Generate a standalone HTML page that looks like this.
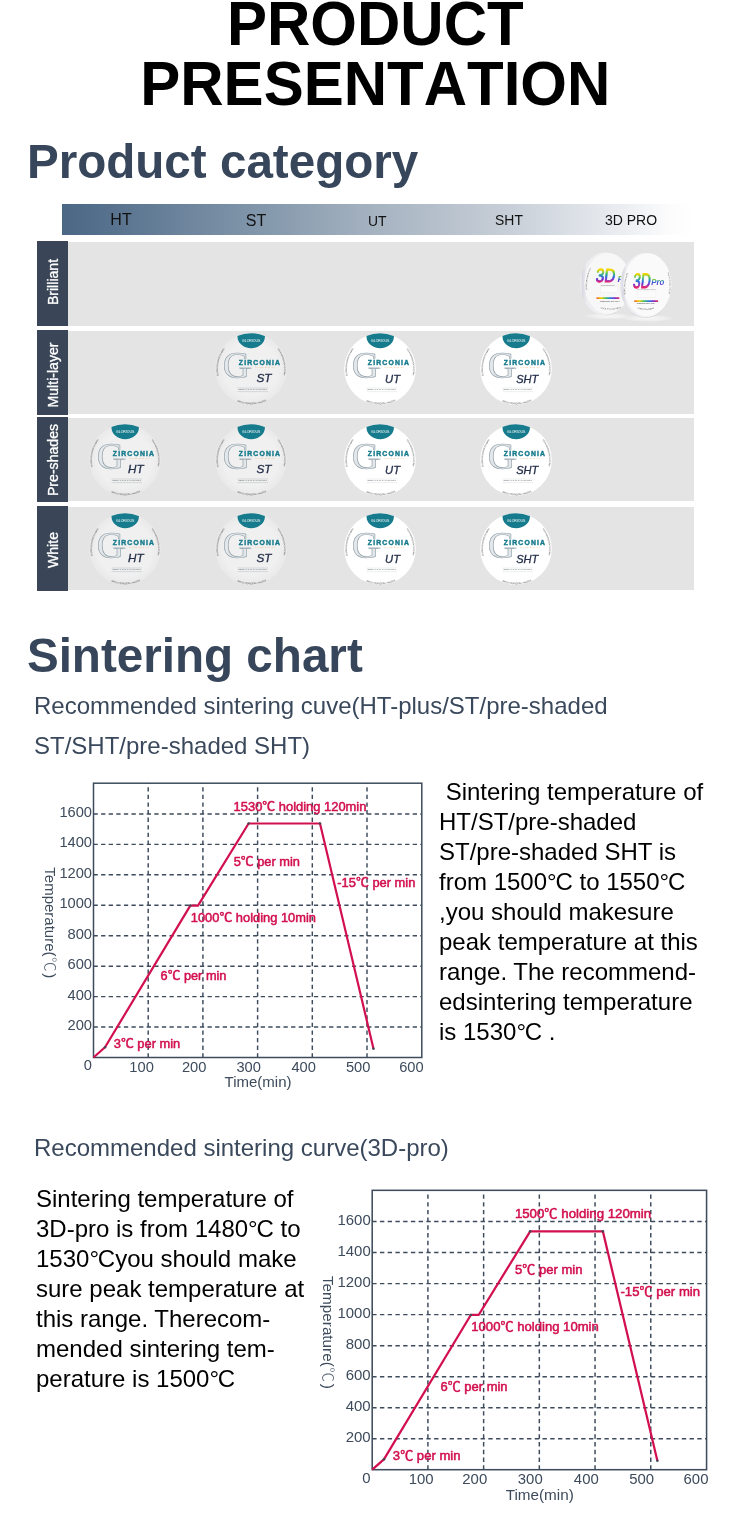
<!DOCTYPE html>
<html lang="en">
<head>
<meta charset="utf-8">
<title>Product Presentation</title>
<style>
html,body{margin:0;padding:0;background:#fff;}
body{width:750px;height:1529px;position:relative;overflow:hidden;font-family:"Liberation Sans",sans-serif;color:#000;}
h1{position:absolute;left:0.3px;top:-5.4px;width:750px;margin:0;text-align:center;font-size:60px;line-height:60px;font-weight:bold;color:#000;font-kerning:none;}
h1 span{display:block;transform:scaleY(1.04);transform-origin:50% 50.8px;}
h2{position:absolute;left:26.9px;margin:0;font-size:47.6px;line-height:56px;font-weight:bold;color:#37465a;white-space:nowrap;}
.sub{position:absolute;left:34px;margin:0;font-size:24px;line-height:40px;color:#3a485c;white-space:nowrap;}
.dg{letter-spacing:-1.2px;}
.body{position:absolute;margin:0;font-size:24px;line-height:30px;color:#000;white-space:pre;}
.hdr{position:absolute;left:62px;top:204px;width:631px;height:31px;background:linear-gradient(90deg,#4a6784 0%,#5a7490 9%,#8196aa 30.7%,#a6b3c1 49.8%,#c8cfd8 71%,#e9ecf0 88%,#fbfbfc 96%,#ffffff 100%);}
.hdr span{position:absolute;top:0;line-height:31px;color:#111;transform:translateX(-50%);white-space:nowrap;}
.row{position:absolute;left:67.5px;width:626.5px;background:#e4e4e4;}
.lab{position:absolute;left:37px;width:30.6px;background:#3a4657;}
.lab span{position:absolute;left:50%;top:50%;margin-left:1.1px;transform:translate(-50%,-50%) rotate(-90deg);color:#fff;font-size:14.1px;-webkit-text-stroke:0.3px #fff;white-space:nowrap;line-height:18px;}
svg{position:absolute;overflow:visible;font-family:"Liberation Sans",sans-serif;}
</style>
</head>
<body>
<h1><span>PRODUCT</span><span>PRESENTATION</span></h1>
<h2 style="top:134.2px">Product category</h2>

<div class="hdr">
  <span style="left:59px;font-size:16px">HT</span>
  <span style="left:194px;top:0.7px;font-size:16px">ST</span>
  <span style="left:315.2px;top:1.5px;font-size:13.9px">UT</span>
  <span style="left:447px;top:1px;font-size:13.9px">SHT</span>
  <span style="left:569px;top:1px;font-size:14px">3D PRO</span>
</div>

<div class="lab" style="top:241.3px;height:84.7px"><span style="margin-top:-2px">Brilliant</span></div>
<div class="row" style="top:241.8px;height:83.8px"></div>
<div class="lab" style="top:330.1px;height:84.7px"><span style="margin-top:2.2px">Multi-layer</span></div>
<div class="row" style="top:330.6px;height:83.8px"></div>
<div class="lab" style="top:417.3px;height:84.3px"><span style="margin-top:0.4px">Pre-shades</span></div>
<div class="row" style="top:417.8px;height:83.4px"></div>
<div class="lab" style="top:506.1px;height:84.5px"><span style="margin-top:1.2px">White</span></div>
<div class="row" style="top:506.6px;height:83.6px"></div>

<svg class="pro" style="left:570px;top:240px" width="120" height="90" viewBox="570 240 120 90">
<defs><linearGradient id="rb" x1="0" y1="0" x2="0" y2="1"><stop offset="0.22" stop-color="#f6d700"/><stop offset="0.40" stop-color="#3fc06a"/><stop offset="0.54" stop-color="#2a72dc"/><stop offset="0.68" stop-color="#7a2fd0"/><stop offset="0.80" stop-color="#e3246e"/></linearGradient><linearGradient id="rp" x1="0" y1="0" x2="0" y2="1"><stop offset="0.3" stop-color="#7ac943"/><stop offset="0.5" stop-color="#2a72dc"/><stop offset="0.78" stop-color="#6a30d0"/></linearGradient><linearGradient id="rbh" x1="0" y1="0" x2="1" y2="0"><stop offset="0" stop-color="#f0602c"/><stop offset="0.2" stop-color="#f2d000"/><stop offset="0.4" stop-color="#49c05a"/><stop offset="0.6" stop-color="#2a7bdc"/><stop offset="0.8" stop-color="#7a2fd0"/><stop offset="1" stop-color="#e8305a"/></linearGradient><linearGradient id="rim" x1="0" y1="0" x2="1" y2="0"><stop offset="0" stop-color="#f1f1f4"/><stop offset="0.05" stop-color="#d9d9e2"/><stop offset="0.13" stop-color="#ededf1"/><stop offset="1" stop-color="#f7f7f9"/></linearGradient><radialGradient id="sh"><stop offset="0" stop-color="#ffffff" stop-opacity="0.7"/><stop offset="0.6" stop-color="#ffffff" stop-opacity="0.4"/><stop offset="1" stop-color="#ffffff" stop-opacity="0"/></radialGradient><path id="pl1" d="M 587.2 290 Q 586.2 277 591.6 268"/><path id="pb1" d="M 600.6 308.2 Q 611 311.4 622.6 307.6"/><path id="pl2" d="M 625.4 294.6 Q 624.2 283 628.4 272.4"/><path id="pr2" d="M 667.4 272.6 Q 670.6 283 668.4 294.6"/><path id="pb2" d="M 637.6 308.6 Q 646 311.4 654.8 308.4"/></defs>
<ellipse cx="608" cy="316.2" rx="25" ry="3.4" fill="url(#sh)"/>
<ellipse cx="648" cy="318.4" rx="27" ry="3.6" fill="url(#sh)"/>
<ellipse cx="606" cy="284.4" rx="24.4" ry="31" fill="#c9c9cf" opacity="0.55"/>
<ellipse cx="604.6" cy="283.8" rx="24.4" ry="31.2" fill="url(#rim)"/>
<ellipse cx="607.8" cy="283.4" rx="23.4" ry="30.4" fill="#f7f7f8"/>
<text x="595.2" y="282.2" font-size="19" fill="url(#rb)" stroke="url(#rb)" stroke-width="0.9" stroke-linejoin="round" textLength="19.6" lengthAdjust="spacingAndGlyphs" transform="skewX(-6) translate(29.6 0)">3D</text>
<text x="617.4" y="281.6" font-size="9" font-weight="bold" font-style="italic" fill="url(#rp)">P</text>
<text x="600.8" y="285.6" font-size="1.9" fill="#9a9a9a" textLength="14" lengthAdjust="spacing">3D GRADIENT COLOR</text>
<rect x="600.8" y="286.2" width="17" height="6.6" fill="#fbfbfb" stroke="#e9e9e9" stroke-width="0.35"/>
<rect x="596.4" y="297.2" width="23" height="1.8" rx="0.6" fill="url(#rbh)"/>
<text x="600" y="301.7" font-size="2.4" fill="#444" textLength="20" lengthAdjust="spacing">PREMIUM QUALITY</text>
<text font-size="1.9" fill="#555"><textPath href="#pl1" textLength="22" lengthAdjust="spacing">DENTAL ZIRCONIA BLOCK</textPath></text>
<text font-size="1.9" fill="#555"><textPath href="#pb1" textLength="21" lengthAdjust="spacing">OPEN SYSTEM 98MM</textPath></text>
<ellipse cx="645.6" cy="285.8" rx="25.4" ry="32.2" fill="#bfbfc6" opacity="0.6"/>
<ellipse cx="645.2" cy="285.2" rx="24.9" ry="32.2" fill="url(#rim)"/>
<ellipse cx="647.4" cy="284.8" rx="24" ry="31.6" fill="#fafafb"/>
<text x="632.6" y="287.7" font-size="21" fill="url(#rb)" stroke="url(#rb)" stroke-width="0.9" stroke-linejoin="round" textLength="17.4" lengthAdjust="spacingAndGlyphs" transform="skewX(-6) translate(30.2 0)">3D</text>
<text x="651.2" y="285.2" font-size="9.6" font-weight="bold" font-style="italic" fill="url(#rp)" textLength="13" lengthAdjust="spacingAndGlyphs">Pro</text>
<text x="637.4" y="290.4" font-size="1.9" fill="#9a9a9a" textLength="18.4" lengthAdjust="spacing">3D GRADIENT COLOR</text>
<rect x="637.4" y="291" width="18.6" height="6.2" fill="#fbfbfb" stroke="#e9e9e9" stroke-width="0.35"/>
<rect x="634.2" y="300.3" width="24" height="1.8" rx="0.6" fill="url(#rbh)"/>
<text x="636.8" y="304" font-size="2.3" fill="#444" textLength="18.4" lengthAdjust="spacing">PREMIUM QUALITY</text>
<text font-size="1.9" fill="#555"><textPath href="#pl2" textLength="22" lengthAdjust="spacing">DENTAL ZIRCONIA BLOCK</textPath></text>
<text font-size="1.9" fill="#555"><textPath href="#pr2" textLength="22" lengthAdjust="spacing">HIGH TRANSLUCENT</textPath></text>
<text font-size="1.9" fill="#555"><textPath href="#pb2" textLength="17" lengthAdjust="spacing">OPEN SYSTEM 98MM</textPath></text>
</svg>
<svg class="disc" style="left:211.4px;top:329.1px" width="80" height="80" viewBox="-40 -40 80 80">
<defs><clipPath id="c1"><circle r="35.8"/></clipPath><path id="al1" d="M -32.38 6.88 A 33.1 33.1 0 0 1 -25.72 -20.83"/><path id="ar1" d="M 26.43 -19.92 A 33.1 33.1 0 0 1 32.38 6.88"/><path id="ab1" d="M -14.32 32.16 A 35.2 35.2 0 0 0 15.98 31.36"/></defs>
<defs><radialGradient id="g1"><stop offset="0.75" stop-color="#f0f0f0"/><stop offset="1" stop-color="#e9e9e9"/></radialGradient></defs>
<circle r="35.8" fill="url(#g1)"/>
<g clip-path="url(#c1)"><ellipse cx="0.2" cy="-32.6" rx="13.7" ry="11.9" fill="#167b8c"/></g>
<text x="0.2" y="-26.7" text-anchor="middle" font-size="4.4" fill="#fff" textLength="18.4" lengthAdjust="spacingAndGlyphs">GLORIOUS</text>
<text x="-28.2" y="9.3" font-family="'Liberation Serif', serif" font-size="38" fill="#e4e8ea" stroke="#93a2ab" stroke-width="0.65">G</text>
<rect x="-13.4" y="-9.8" width="43.4" height="8.4" fill="#f0f0f0"/>
<path d="M -11.4 -0.8 H 0.4" stroke="#93a2ab" stroke-width="0.9" fill="none"/>
<text x="-12.2" y="-3.7" font-size="6.8" font-weight="bold" fill="#167b8c" stroke="#167b8c" stroke-width="0.42" textLength="41.2" lengthAdjust="spacing">ZIRCONIA</text>
<text x="4.4" y="-0.6" font-size="2.2" fill="#eab27c" textLength="19.4" lengthAdjust="spacing">HT ST SHT UT</text>
<text x="5.4" y="13.3" font-size="11.2" font-style="italic" fill="#26304b" stroke="#26304b" stroke-width="0.32" textLength="15.0" lengthAdjust="spacingAndGlyphs">ST</text>
<path d="M -13.6 19.0 H 17 M -13.6 22.6 H 17" stroke="#b4b8bb" stroke-width="0.45" fill="none"/>
<text x="-12.6" y="21.1" font-size="2.3" fill="#6d7378" textLength="28.6" lengthAdjust="spacing">DENTAL CAD CAM MILLING</text>
<text font-size="2.1" fill="#4a4a4a"><textPath href="#al1" textLength="28.6" lengthAdjust="spacing">GLORIOUS ZIRCONIA DISC 98MM</textPath></text>
<text font-size="2.1" fill="#4a4a4a"><textPath href="#ar1" textLength="27.6" lengthAdjust="spacing">HIGH TRANSLUCENT ZIRCONIA</textPath></text>
<text font-size="2.1" fill="#4a4a4a"><textPath href="#ab1" textLength="30.6" lengthAdjust="spacing">OPEN SYSTEM DENTAL LAB BLOCK</textPath></text>
</svg>
<svg class="disc" style="left:340px;top:329.1px" width="80" height="80" viewBox="-40 -40 80 80">
<defs><clipPath id="c2"><circle r="35.8"/></clipPath><path id="al2" d="M -32.38 6.88 A 33.1 33.1 0 0 1 -25.72 -20.83"/><path id="ar2" d="M 26.43 -19.92 A 33.1 33.1 0 0 1 32.38 6.88"/><path id="ab2" d="M -14.32 32.16 A 35.2 35.2 0 0 0 15.98 31.36"/></defs>
<circle r="35.8" fill="#ffffff"/>
<g clip-path="url(#c2)"><ellipse cx="0.2" cy="-32.6" rx="13.7" ry="11.9" fill="#167b8c"/></g>
<text x="0.2" y="-26.7" text-anchor="middle" font-size="4.4" fill="#fff" textLength="18.4" lengthAdjust="spacingAndGlyphs">GLORIOUS</text>
<text x="-28.2" y="9.3" font-family="'Liberation Serif', serif" font-size="38" fill="#e4e8ea" stroke="#93a2ab" stroke-width="0.65">G</text>
<rect x="-13.4" y="-9.8" width="43.4" height="8.4" fill="#ffffff"/>
<path d="M -11.4 -0.8 H 0.4" stroke="#93a2ab" stroke-width="0.9" fill="none"/>
<text x="-12.2" y="-3.7" font-size="6.8" font-weight="bold" fill="#167b8c" stroke="#167b8c" stroke-width="0.42" textLength="41.2" lengthAdjust="spacing">ZIRCONIA</text>
<text x="4.4" y="-0.6" font-size="2.2" fill="#eab27c" textLength="19.4" lengthAdjust="spacing">HT ST SHT UT</text>
<text x="5.1" y="14.0" font-size="11.2" font-style="italic" fill="#26304b" stroke="#26304b" stroke-width="0.32" textLength="14.9" lengthAdjust="spacingAndGlyphs">UT</text>
<path d="M -13.6 19.0 H 17 M -13.6 22.6 H 17" stroke="#dadcde" stroke-width="0.45" fill="none"/>
<text x="-12.6" y="21.0" font-size="2.3" fill="#6d7378" textLength="28.6" lengthAdjust="spacing">DENTAL CAD CAM MILLING</text>
<text font-size="2.1" fill="#4a4a4a"><textPath href="#al2" textLength="28.6" lengthAdjust="spacing">GLORIOUS ZIRCONIA DISC 98MM</textPath></text>
<text font-size="2.1" fill="#4a4a4a"><textPath href="#ar2" textLength="27.6" lengthAdjust="spacing">HIGH TRANSLUCENT ZIRCONIA</textPath></text>
<text font-size="2.1" fill="#4a4a4a"><textPath href="#ab2" textLength="30.6" lengthAdjust="spacing">OPEN SYSTEM DENTAL LAB BLOCK</textPath></text>
</svg>
<svg class="disc" style="left:475.79999999999995px;top:329.1px" width="80" height="80" viewBox="-40 -40 80 80">
<defs><clipPath id="c3"><circle r="35.8"/></clipPath><path id="al3" d="M -32.38 6.88 A 33.1 33.1 0 0 1 -25.72 -20.83"/><path id="ar3" d="M 26.43 -19.92 A 33.1 33.1 0 0 1 32.38 6.88"/><path id="ab3" d="M -14.32 32.16 A 35.2 35.2 0 0 0 15.98 31.36"/></defs>
<circle r="35.8" fill="#ffffff"/>
<g clip-path="url(#c3)"><ellipse cx="0.2" cy="-32.6" rx="13.7" ry="11.9" fill="#167b8c"/></g>
<text x="0.2" y="-26.7" text-anchor="middle" font-size="4.4" fill="#fff" textLength="18.4" lengthAdjust="spacingAndGlyphs">GLORIOUS</text>
<text x="-28.2" y="9.3" font-family="'Liberation Serif', serif" font-size="38" fill="#e4e8ea" stroke="#93a2ab" stroke-width="0.65">G</text>
<rect x="-13.4" y="-9.8" width="43.4" height="8.4" fill="#ffffff"/>
<path d="M -11.4 -0.8 H 0.4" stroke="#93a2ab" stroke-width="0.9" fill="none"/>
<text x="-12.2" y="-3.7" font-size="6.8" font-weight="bold" fill="#167b8c" stroke="#167b8c" stroke-width="0.42" textLength="41.2" lengthAdjust="spacing">ZIRCONIA</text>
<text x="4.4" y="-0.6" font-size="2.2" fill="#eab27c" textLength="19.4" lengthAdjust="spacing">HT ST SHT UT</text>
<text x="0.2" y="14.0" font-size="11.2" font-style="italic" fill="#26304b" stroke="#26304b" stroke-width="0.32" textLength="22.1" lengthAdjust="spacingAndGlyphs">SHT</text>
<path d="M -13.6 19.0 H 17 M -13.6 22.6 H 17" stroke="#dadcde" stroke-width="0.45" fill="none"/>
<text x="-12.6" y="21.0" font-size="2.3" fill="#6d7378" textLength="28.6" lengthAdjust="spacing">DENTAL CAD CAM MILLING</text>
<text font-size="2.1" fill="#4a4a4a"><textPath href="#al3" textLength="28.6" lengthAdjust="spacing">GLORIOUS ZIRCONIA DISC 98MM</textPath></text>
<text font-size="2.1" fill="#4a4a4a"><textPath href="#ar3" textLength="27.6" lengthAdjust="spacing">HIGH TRANSLUCENT ZIRCONIA</textPath></text>
<text font-size="2.1" fill="#4a4a4a"><textPath href="#ab3" textLength="30.6" lengthAdjust="spacing">OPEN SYSTEM DENTAL LAB BLOCK</textPath></text>
</svg>
<svg class="disc" style="left:85.2px;top:419.9px" width="80" height="80" viewBox="-40 -40 80 80">
<defs><clipPath id="c4"><circle r="35.8"/></clipPath><path id="al4" d="M -32.38 6.88 A 33.1 33.1 0 0 1 -25.72 -20.83"/><path id="ar4" d="M 26.43 -19.92 A 33.1 33.1 0 0 1 32.38 6.88"/><path id="ab4" d="M -14.32 32.16 A 35.2 35.2 0 0 0 15.98 31.36"/></defs>
<defs><radialGradient id="g4"><stop offset="0.75" stop-color="#f0f0f0"/><stop offset="1" stop-color="#e9e9e9"/></radialGradient></defs>
<circle r="35.8" fill="url(#g4)"/>
<g clip-path="url(#c4)"><ellipse cx="0.2" cy="-32.6" rx="13.7" ry="11.9" fill="#167b8c"/></g>
<text x="0.2" y="-26.7" text-anchor="middle" font-size="4.4" fill="#fff" textLength="18.4" lengthAdjust="spacingAndGlyphs">GLORIOUS</text>
<text x="-28.2" y="9.3" font-family="'Liberation Serif', serif" font-size="38" fill="#e4e8ea" stroke="#93a2ab" stroke-width="0.65">G</text>
<rect x="-13.4" y="-9.8" width="43.4" height="8.4" fill="#f0f0f0"/>
<path d="M -11.4 -0.8 H 0.4" stroke="#93a2ab" stroke-width="0.9" fill="none"/>
<text x="-12.2" y="-3.7" font-size="6.8" font-weight="bold" fill="#167b8c" stroke="#167b8c" stroke-width="0.42" textLength="41.2" lengthAdjust="spacing">ZIRCONIA</text>
<text x="4.4" y="-0.6" font-size="2.2" fill="#eab27c" textLength="19.4" lengthAdjust="spacing">HT ST SHT UT</text>
<text x="3.0" y="13.3" font-size="11.2" font-style="italic" fill="#26304b" stroke="#26304b" stroke-width="0.32" textLength="15.5" lengthAdjust="spacingAndGlyphs">HT</text>
<path d="M -13.6 19.0 H 17 M -13.6 22.6 H 17" stroke="#b4b8bb" stroke-width="0.45" fill="none"/>
<text x="-12.6" y="21.1" font-size="2.3" fill="#6d7378" textLength="28.6" lengthAdjust="spacing">DENTAL CAD CAM MILLING</text>
<text font-size="2.1" fill="#4a4a4a"><textPath href="#al4" textLength="28.6" lengthAdjust="spacing">GLORIOUS ZIRCONIA DISC 98MM</textPath></text>
<text font-size="2.1" fill="#4a4a4a"><textPath href="#ar4" textLength="27.6" lengthAdjust="spacing">HIGH TRANSLUCENT ZIRCONIA</textPath></text>
<text font-size="2.1" fill="#4a4a4a"><textPath href="#ab4" textLength="30.6" lengthAdjust="spacing">OPEN SYSTEM DENTAL LAB BLOCK</textPath></text>
</svg>
<svg class="disc" style="left:211.4px;top:419.9px" width="80" height="80" viewBox="-40 -40 80 80">
<defs><clipPath id="c5"><circle r="35.8"/></clipPath><path id="al5" d="M -32.38 6.88 A 33.1 33.1 0 0 1 -25.72 -20.83"/><path id="ar5" d="M 26.43 -19.92 A 33.1 33.1 0 0 1 32.38 6.88"/><path id="ab5" d="M -14.32 32.16 A 35.2 35.2 0 0 0 15.98 31.36"/></defs>
<defs><radialGradient id="g5"><stop offset="0.75" stop-color="#f0f0f0"/><stop offset="1" stop-color="#e9e9e9"/></radialGradient></defs>
<circle r="35.8" fill="url(#g5)"/>
<g clip-path="url(#c5)"><ellipse cx="0.2" cy="-32.6" rx="13.7" ry="11.9" fill="#167b8c"/></g>
<text x="0.2" y="-26.7" text-anchor="middle" font-size="4.4" fill="#fff" textLength="18.4" lengthAdjust="spacingAndGlyphs">GLORIOUS</text>
<text x="-28.2" y="9.3" font-family="'Liberation Serif', serif" font-size="38" fill="#e4e8ea" stroke="#93a2ab" stroke-width="0.65">G</text>
<rect x="-13.4" y="-9.8" width="43.4" height="8.4" fill="#f0f0f0"/>
<path d="M -11.4 -0.8 H 0.4" stroke="#93a2ab" stroke-width="0.9" fill="none"/>
<text x="-12.2" y="-3.7" font-size="6.8" font-weight="bold" fill="#167b8c" stroke="#167b8c" stroke-width="0.42" textLength="41.2" lengthAdjust="spacing">ZIRCONIA</text>
<text x="4.4" y="-0.6" font-size="2.2" fill="#eab27c" textLength="19.4" lengthAdjust="spacing">HT ST SHT UT</text>
<text x="5.4" y="13.3" font-size="11.2" font-style="italic" fill="#26304b" stroke="#26304b" stroke-width="0.32" textLength="15.0" lengthAdjust="spacingAndGlyphs">ST</text>
<path d="M -13.6 19.0 H 17 M -13.6 22.6 H 17" stroke="#b4b8bb" stroke-width="0.45" fill="none"/>
<text x="-12.6" y="21.1" font-size="2.3" fill="#6d7378" textLength="28.6" lengthAdjust="spacing">DENTAL CAD CAM MILLING</text>
<text font-size="2.1" fill="#4a4a4a"><textPath href="#al5" textLength="28.6" lengthAdjust="spacing">GLORIOUS ZIRCONIA DISC 98MM</textPath></text>
<text font-size="2.1" fill="#4a4a4a"><textPath href="#ar5" textLength="27.6" lengthAdjust="spacing">HIGH TRANSLUCENT ZIRCONIA</textPath></text>
<text font-size="2.1" fill="#4a4a4a"><textPath href="#ab5" textLength="30.6" lengthAdjust="spacing">OPEN SYSTEM DENTAL LAB BLOCK</textPath></text>
</svg>
<svg class="disc" style="left:340px;top:419.9px" width="80" height="80" viewBox="-40 -40 80 80">
<defs><clipPath id="c6"><circle r="35.8"/></clipPath><path id="al6" d="M -32.38 6.88 A 33.1 33.1 0 0 1 -25.72 -20.83"/><path id="ar6" d="M 26.43 -19.92 A 33.1 33.1 0 0 1 32.38 6.88"/><path id="ab6" d="M -14.32 32.16 A 35.2 35.2 0 0 0 15.98 31.36"/></defs>
<circle r="35.8" fill="#ffffff"/>
<g clip-path="url(#c6)"><ellipse cx="0.2" cy="-32.6" rx="13.7" ry="11.9" fill="#167b8c"/></g>
<text x="0.2" y="-26.7" text-anchor="middle" font-size="4.4" fill="#fff" textLength="18.4" lengthAdjust="spacingAndGlyphs">GLORIOUS</text>
<text x="-28.2" y="9.3" font-family="'Liberation Serif', serif" font-size="38" fill="#e4e8ea" stroke="#93a2ab" stroke-width="0.65">G</text>
<rect x="-13.4" y="-9.8" width="43.4" height="8.4" fill="#ffffff"/>
<path d="M -11.4 -0.8 H 0.4" stroke="#93a2ab" stroke-width="0.9" fill="none"/>
<text x="-12.2" y="-3.7" font-size="6.8" font-weight="bold" fill="#167b8c" stroke="#167b8c" stroke-width="0.42" textLength="41.2" lengthAdjust="spacing">ZIRCONIA</text>
<text x="4.4" y="-0.6" font-size="2.2" fill="#eab27c" textLength="19.4" lengthAdjust="spacing">HT ST SHT UT</text>
<text x="5.1" y="14.0" font-size="11.2" font-style="italic" fill="#26304b" stroke="#26304b" stroke-width="0.32" textLength="14.9" lengthAdjust="spacingAndGlyphs">UT</text>
<path d="M -13.6 19.0 H 17 M -13.6 22.6 H 17" stroke="#dadcde" stroke-width="0.45" fill="none"/>
<text x="-12.6" y="21.0" font-size="2.3" fill="#6d7378" textLength="28.6" lengthAdjust="spacing">DENTAL CAD CAM MILLING</text>
<text font-size="2.1" fill="#4a4a4a"><textPath href="#al6" textLength="28.6" lengthAdjust="spacing">GLORIOUS ZIRCONIA DISC 98MM</textPath></text>
<text font-size="2.1" fill="#4a4a4a"><textPath href="#ar6" textLength="27.6" lengthAdjust="spacing">HIGH TRANSLUCENT ZIRCONIA</textPath></text>
<text font-size="2.1" fill="#4a4a4a"><textPath href="#ab6" textLength="30.6" lengthAdjust="spacing">OPEN SYSTEM DENTAL LAB BLOCK</textPath></text>
</svg>
<svg class="disc" style="left:475.79999999999995px;top:419.9px" width="80" height="80" viewBox="-40 -40 80 80">
<defs><clipPath id="c7"><circle r="35.8"/></clipPath><path id="al7" d="M -32.38 6.88 A 33.1 33.1 0 0 1 -25.72 -20.83"/><path id="ar7" d="M 26.43 -19.92 A 33.1 33.1 0 0 1 32.38 6.88"/><path id="ab7" d="M -14.32 32.16 A 35.2 35.2 0 0 0 15.98 31.36"/></defs>
<circle r="35.8" fill="#ffffff"/>
<g clip-path="url(#c7)"><ellipse cx="0.2" cy="-32.6" rx="13.7" ry="11.9" fill="#167b8c"/></g>
<text x="0.2" y="-26.7" text-anchor="middle" font-size="4.4" fill="#fff" textLength="18.4" lengthAdjust="spacingAndGlyphs">GLORIOUS</text>
<text x="-28.2" y="9.3" font-family="'Liberation Serif', serif" font-size="38" fill="#e4e8ea" stroke="#93a2ab" stroke-width="0.65">G</text>
<rect x="-13.4" y="-9.8" width="43.4" height="8.4" fill="#ffffff"/>
<path d="M -11.4 -0.8 H 0.4" stroke="#93a2ab" stroke-width="0.9" fill="none"/>
<text x="-12.2" y="-3.7" font-size="6.8" font-weight="bold" fill="#167b8c" stroke="#167b8c" stroke-width="0.42" textLength="41.2" lengthAdjust="spacing">ZIRCONIA</text>
<text x="4.4" y="-0.6" font-size="2.2" fill="#eab27c" textLength="19.4" lengthAdjust="spacing">HT ST SHT UT</text>
<text x="0.2" y="14.0" font-size="11.2" font-style="italic" fill="#26304b" stroke="#26304b" stroke-width="0.32" textLength="22.1" lengthAdjust="spacingAndGlyphs">SHT</text>
<path d="M -13.6 19.0 H 17 M -13.6 22.6 H 17" stroke="#dadcde" stroke-width="0.45" fill="none"/>
<text x="-12.6" y="21.0" font-size="2.3" fill="#6d7378" textLength="28.6" lengthAdjust="spacing">DENTAL CAD CAM MILLING</text>
<text font-size="2.1" fill="#4a4a4a"><textPath href="#al7" textLength="28.6" lengthAdjust="spacing">GLORIOUS ZIRCONIA DISC 98MM</textPath></text>
<text font-size="2.1" fill="#4a4a4a"><textPath href="#ar7" textLength="27.6" lengthAdjust="spacing">HIGH TRANSLUCENT ZIRCONIA</textPath></text>
<text font-size="2.1" fill="#4a4a4a"><textPath href="#ab7" textLength="30.6" lengthAdjust="spacing">OPEN SYSTEM DENTAL LAB BLOCK</textPath></text>
</svg>
<svg class="disc" style="left:85.2px;top:509.0px" width="80" height="80" viewBox="-40 -40 80 80">
<defs><clipPath id="c8"><circle r="35.8"/></clipPath><path id="al8" d="M -32.38 6.88 A 33.1 33.1 0 0 1 -25.72 -20.83"/><path id="ar8" d="M 26.43 -19.92 A 33.1 33.1 0 0 1 32.38 6.88"/><path id="ab8" d="M -14.32 32.16 A 35.2 35.2 0 0 0 15.98 31.36"/></defs>
<defs><radialGradient id="g8"><stop offset="0.75" stop-color="#f0f0f0"/><stop offset="1" stop-color="#e9e9e9"/></radialGradient></defs>
<circle r="35.8" fill="url(#g8)"/>
<g clip-path="url(#c8)"><ellipse cx="0.2" cy="-32.6" rx="13.7" ry="11.9" fill="#167b8c"/></g>
<text x="0.2" y="-26.7" text-anchor="middle" font-size="4.4" fill="#fff" textLength="18.4" lengthAdjust="spacingAndGlyphs">GLORIOUS</text>
<text x="-28.2" y="9.3" font-family="'Liberation Serif', serif" font-size="38" fill="#e4e8ea" stroke="#93a2ab" stroke-width="0.65">G</text>
<rect x="-13.4" y="-9.8" width="43.4" height="8.4" fill="#f0f0f0"/>
<path d="M -11.4 -0.8 H 0.4" stroke="#93a2ab" stroke-width="0.9" fill="none"/>
<text x="-12.2" y="-3.7" font-size="6.8" font-weight="bold" fill="#167b8c" stroke="#167b8c" stroke-width="0.42" textLength="41.2" lengthAdjust="spacing">ZIRCONIA</text>
<text x="4.4" y="-0.6" font-size="2.2" fill="#eab27c" textLength="19.4" lengthAdjust="spacing">HT ST SHT UT</text>
<text x="3.0" y="13.3" font-size="11.2" font-style="italic" fill="#26304b" stroke="#26304b" stroke-width="0.32" textLength="15.5" lengthAdjust="spacingAndGlyphs">HT</text>
<path d="M -13.6 19.0 H 17 M -13.6 22.6 H 17" stroke="#b4b8bb" stroke-width="0.45" fill="none"/>
<text x="-12.6" y="21.1" font-size="2.3" fill="#6d7378" textLength="28.6" lengthAdjust="spacing">DENTAL CAD CAM MILLING</text>
<text font-size="2.1" fill="#4a4a4a"><textPath href="#al8" textLength="28.6" lengthAdjust="spacing">GLORIOUS ZIRCONIA DISC 98MM</textPath></text>
<text font-size="2.1" fill="#4a4a4a"><textPath href="#ar8" textLength="27.6" lengthAdjust="spacing">HIGH TRANSLUCENT ZIRCONIA</textPath></text>
<text font-size="2.1" fill="#4a4a4a"><textPath href="#ab8" textLength="30.6" lengthAdjust="spacing">OPEN SYSTEM DENTAL LAB BLOCK</textPath></text>
</svg>
<svg class="disc" style="left:211.4px;top:509.0px" width="80" height="80" viewBox="-40 -40 80 80">
<defs><clipPath id="c9"><circle r="35.8"/></clipPath><path id="al9" d="M -32.38 6.88 A 33.1 33.1 0 0 1 -25.72 -20.83"/><path id="ar9" d="M 26.43 -19.92 A 33.1 33.1 0 0 1 32.38 6.88"/><path id="ab9" d="M -14.32 32.16 A 35.2 35.2 0 0 0 15.98 31.36"/></defs>
<defs><radialGradient id="g9"><stop offset="0.75" stop-color="#f0f0f0"/><stop offset="1" stop-color="#e9e9e9"/></radialGradient></defs>
<circle r="35.8" fill="url(#g9)"/>
<g clip-path="url(#c9)"><ellipse cx="0.2" cy="-32.6" rx="13.7" ry="11.9" fill="#167b8c"/></g>
<text x="0.2" y="-26.7" text-anchor="middle" font-size="4.4" fill="#fff" textLength="18.4" lengthAdjust="spacingAndGlyphs">GLORIOUS</text>
<text x="-28.2" y="9.3" font-family="'Liberation Serif', serif" font-size="38" fill="#e4e8ea" stroke="#93a2ab" stroke-width="0.65">G</text>
<rect x="-13.4" y="-9.8" width="43.4" height="8.4" fill="#f0f0f0"/>
<path d="M -11.4 -0.8 H 0.4" stroke="#93a2ab" stroke-width="0.9" fill="none"/>
<text x="-12.2" y="-3.7" font-size="6.8" font-weight="bold" fill="#167b8c" stroke="#167b8c" stroke-width="0.42" textLength="41.2" lengthAdjust="spacing">ZIRCONIA</text>
<text x="4.4" y="-0.6" font-size="2.2" fill="#eab27c" textLength="19.4" lengthAdjust="spacing">HT ST SHT UT</text>
<text x="5.4" y="13.3" font-size="11.2" font-style="italic" fill="#26304b" stroke="#26304b" stroke-width="0.32" textLength="15.0" lengthAdjust="spacingAndGlyphs">ST</text>
<path d="M -13.6 19.0 H 17 M -13.6 22.6 H 17" stroke="#b4b8bb" stroke-width="0.45" fill="none"/>
<text x="-12.6" y="21.1" font-size="2.3" fill="#6d7378" textLength="28.6" lengthAdjust="spacing">DENTAL CAD CAM MILLING</text>
<text font-size="2.1" fill="#4a4a4a"><textPath href="#al9" textLength="28.6" lengthAdjust="spacing">GLORIOUS ZIRCONIA DISC 98MM</textPath></text>
<text font-size="2.1" fill="#4a4a4a"><textPath href="#ar9" textLength="27.6" lengthAdjust="spacing">HIGH TRANSLUCENT ZIRCONIA</textPath></text>
<text font-size="2.1" fill="#4a4a4a"><textPath href="#ab9" textLength="30.6" lengthAdjust="spacing">OPEN SYSTEM DENTAL LAB BLOCK</textPath></text>
</svg>
<svg class="disc" style="left:340px;top:509.0px" width="80" height="80" viewBox="-40 -40 80 80">
<defs><clipPath id="c10"><circle r="35.8"/></clipPath><path id="al10" d="M -32.38 6.88 A 33.1 33.1 0 0 1 -25.72 -20.83"/><path id="ar10" d="M 26.43 -19.92 A 33.1 33.1 0 0 1 32.38 6.88"/><path id="ab10" d="M -14.32 32.16 A 35.2 35.2 0 0 0 15.98 31.36"/></defs>
<circle r="35.8" fill="#ffffff"/>
<g clip-path="url(#c10)"><ellipse cx="0.2" cy="-32.6" rx="13.7" ry="11.9" fill="#167b8c"/></g>
<text x="0.2" y="-26.7" text-anchor="middle" font-size="4.4" fill="#fff" textLength="18.4" lengthAdjust="spacingAndGlyphs">GLORIOUS</text>
<text x="-28.2" y="9.3" font-family="'Liberation Serif', serif" font-size="38" fill="#e4e8ea" stroke="#93a2ab" stroke-width="0.65">G</text>
<rect x="-13.4" y="-9.8" width="43.4" height="8.4" fill="#ffffff"/>
<path d="M -11.4 -0.8 H 0.4" stroke="#93a2ab" stroke-width="0.9" fill="none"/>
<text x="-12.2" y="-3.7" font-size="6.8" font-weight="bold" fill="#167b8c" stroke="#167b8c" stroke-width="0.42" textLength="41.2" lengthAdjust="spacing">ZIRCONIA</text>
<text x="4.4" y="-0.6" font-size="2.2" fill="#eab27c" textLength="19.4" lengthAdjust="spacing">HT ST SHT UT</text>
<text x="5.1" y="14.0" font-size="11.2" font-style="italic" fill="#26304b" stroke="#26304b" stroke-width="0.32" textLength="14.9" lengthAdjust="spacingAndGlyphs">UT</text>
<path d="M -13.6 19.0 H 17 M -13.6 22.6 H 17" stroke="#dadcde" stroke-width="0.45" fill="none"/>
<text x="-12.6" y="21.0" font-size="2.3" fill="#6d7378" textLength="28.6" lengthAdjust="spacing">DENTAL CAD CAM MILLING</text>
<text font-size="2.1" fill="#4a4a4a"><textPath href="#al10" textLength="28.6" lengthAdjust="spacing">GLORIOUS ZIRCONIA DISC 98MM</textPath></text>
<text font-size="2.1" fill="#4a4a4a"><textPath href="#ar10" textLength="27.6" lengthAdjust="spacing">HIGH TRANSLUCENT ZIRCONIA</textPath></text>
<text font-size="2.1" fill="#4a4a4a"><textPath href="#ab10" textLength="30.6" lengthAdjust="spacing">OPEN SYSTEM DENTAL LAB BLOCK</textPath></text>
</svg>
<svg class="disc" style="left:475.79999999999995px;top:509.0px" width="80" height="80" viewBox="-40 -40 80 80">
<defs><clipPath id="c11"><circle r="35.8"/></clipPath><path id="al11" d="M -32.38 6.88 A 33.1 33.1 0 0 1 -25.72 -20.83"/><path id="ar11" d="M 26.43 -19.92 A 33.1 33.1 0 0 1 32.38 6.88"/><path id="ab11" d="M -14.32 32.16 A 35.2 35.2 0 0 0 15.98 31.36"/></defs>
<circle r="35.8" fill="#ffffff"/>
<g clip-path="url(#c11)"><ellipse cx="0.2" cy="-32.6" rx="13.7" ry="11.9" fill="#167b8c"/></g>
<text x="0.2" y="-26.7" text-anchor="middle" font-size="4.4" fill="#fff" textLength="18.4" lengthAdjust="spacingAndGlyphs">GLORIOUS</text>
<text x="-28.2" y="9.3" font-family="'Liberation Serif', serif" font-size="38" fill="#e4e8ea" stroke="#93a2ab" stroke-width="0.65">G</text>
<rect x="-13.4" y="-9.8" width="43.4" height="8.4" fill="#ffffff"/>
<path d="M -11.4 -0.8 H 0.4" stroke="#93a2ab" stroke-width="0.9" fill="none"/>
<text x="-12.2" y="-3.7" font-size="6.8" font-weight="bold" fill="#167b8c" stroke="#167b8c" stroke-width="0.42" textLength="41.2" lengthAdjust="spacing">ZIRCONIA</text>
<text x="4.4" y="-0.6" font-size="2.2" fill="#eab27c" textLength="19.4" lengthAdjust="spacing">HT ST SHT UT</text>
<text x="0.2" y="14.0" font-size="11.2" font-style="italic" fill="#26304b" stroke="#26304b" stroke-width="0.32" textLength="22.1" lengthAdjust="spacingAndGlyphs">SHT</text>
<path d="M -13.6 19.0 H 17 M -13.6 22.6 H 17" stroke="#dadcde" stroke-width="0.45" fill="none"/>
<text x="-12.6" y="21.0" font-size="2.3" fill="#6d7378" textLength="28.6" lengthAdjust="spacing">DENTAL CAD CAM MILLING</text>
<text font-size="2.1" fill="#4a4a4a"><textPath href="#al11" textLength="28.6" lengthAdjust="spacing">GLORIOUS ZIRCONIA DISC 98MM</textPath></text>
<text font-size="2.1" fill="#4a4a4a"><textPath href="#ar11" textLength="27.6" lengthAdjust="spacing">HIGH TRANSLUCENT ZIRCONIA</textPath></text>
<text font-size="2.1" fill="#4a4a4a"><textPath href="#ab11" textLength="30.6" lengthAdjust="spacing">OPEN SYSTEM DENTAL LAB BLOCK</textPath></text>
</svg>

<h2 style="top:628px">Sintering chart</h2>
<p class="sub" style="top:686px">Recommended sintering cuve(HT-plus/ST/pre-shaded<br>ST/SHT/pre-shaded SHT)</p>

<p class="body" style="left:439px;top:777px"> Sintering temperature of
HT/ST/pre-shaded
ST/pre-shaded SHT is
from 1500<span class="dg">°</span>C to 1550<span class="dg">°</span>C
,you should makesure
peak temperature at this
range. The recommend-
edsintering temperature
is 1530<span class="dg">°</span>C .</p>

<p class="sub" style="top:1128px">Recommended sintering curve(3D-pro)</p>

<p class="body" style="left:36px;top:1184px">Sintering temperature of
3D-pro is from 1480<span class="dg">°</span>C to
1530<span class="dg">°</span>Cyou should make
sure peak temperature at
this range. Therecom-
mended sintering tem-
perature is 1500<span class="dg">°</span>C</p>

<svg class="chart" style="left:0;top:0" width="750" height="1529" viewBox="0 0 750 1529">
<g transform="translate(93.5 1057.5) scale(1.0)" font-family='"Liberation Sans", "Noto Sans CJK SC", sans-serif'>
<path d="M 0 -30.45 H 328.3 M 0 -60.90 H 328.3 M 0 -91.35 H 328.3 M 0 -121.80 H 328.3 M 0 -152.25 H 328.3 M 0 -182.70 H 328.3 M 0 -213.15 H 328.3 M 0 -243.60 H 328.3 M 54.70 0 V -274.3 M 109.40 0 V -274.3 M 164.10 0 V -274.3 M 218.80 0 V -274.3 M 273.50 0 V -274.3" stroke="#3d4b5c" stroke-width="1.45" stroke-dasharray="4.3 3.3" fill="none"/>
<rect x="0" y="-274.3" width="328.3" height="274.3" fill="none" stroke="#3d4b5c" stroke-width="1.5"/>
<text x="-1.5" y="-27.45" text-anchor="end" font-size="15.2" fill="#3d4b5c" textLength="24.5" lengthAdjust="spacingAndGlyphs">200</text>
<text x="-1.5" y="-57.90" text-anchor="end" font-size="15.2" fill="#3d4b5c" textLength="24.5" lengthAdjust="spacingAndGlyphs">400</text>
<text x="-1.5" y="-88.35" text-anchor="end" font-size="15.2" fill="#3d4b5c" textLength="24.5" lengthAdjust="spacingAndGlyphs">600</text>
<text x="-1.5" y="-118.80" text-anchor="end" font-size="15.2" fill="#3d4b5c" textLength="24.5" lengthAdjust="spacingAndGlyphs">800</text>
<text x="-1.5" y="-149.25" text-anchor="end" font-size="15.2" fill="#3d4b5c" textLength="32.6" lengthAdjust="spacingAndGlyphs">1000</text>
<text x="-1.5" y="-179.70" text-anchor="end" font-size="15.2" fill="#3d4b5c" textLength="32.6" lengthAdjust="spacingAndGlyphs">1200</text>
<text x="-1.5" y="-210.15" text-anchor="end" font-size="15.2" fill="#3d4b5c" textLength="32.6" lengthAdjust="spacingAndGlyphs">1400</text>
<text x="-1.5" y="-240.60" text-anchor="end" font-size="15.2" fill="#3d4b5c" textLength="32.6" lengthAdjust="spacingAndGlyphs">1600</text>
<text x="-5.6" y="12.6" text-anchor="middle" font-size="15.2" fill="#3d4b5c" textLength="8.15" lengthAdjust="spacingAndGlyphs">0</text>
<text x="48.10" y="14.3" text-anchor="middle" font-size="15.2" fill="#3d4b5c" textLength="24.45" lengthAdjust="spacingAndGlyphs">100</text>
<text x="100.70" y="14.3" text-anchor="middle" font-size="15.2" fill="#3d4b5c" textLength="24.45" lengthAdjust="spacingAndGlyphs">200</text>
<text x="155.20" y="14.3" text-anchor="middle" font-size="15.2" fill="#3d4b5c" textLength="24.45" lengthAdjust="spacingAndGlyphs">300</text>
<text x="210.20" y="14.3" text-anchor="middle" font-size="15.2" fill="#3d4b5c" textLength="24.45" lengthAdjust="spacingAndGlyphs">400</text>
<text x="264.60" y="14.3" text-anchor="middle" font-size="15.2" fill="#3d4b5c" textLength="24.45" lengthAdjust="spacingAndGlyphs">500</text>
<text x="317.90" y="14.3" text-anchor="middle" font-size="15.2" fill="#3d4b5c" textLength="24.45" lengthAdjust="spacingAndGlyphs">600</text>
<text x="164.5" y="29.5" text-anchor="middle" font-size="15" fill="#3d4b5c">Time(min)</text>
<text transform="translate(-48.4 -190.2) rotate(90)" font-size="15" fill="#3d4b5c">Temperature(<tspan font-weight="300" font-size="14.5" fill="#5b6776" dx="0.6">℃</tspan><tspan dx="1.6">)</tspan></text>
<polyline points="0,0 11.5,-10.2 96.8,-151.9 104.5,-151.9 155.1,-234 226.5,-234 280,-8.7" fill="none" stroke="#d2104f" stroke-width="2.2" stroke-linejoin="round"/>
<circle cx="11.5" cy="-10.2" r="1.25" fill="#4a4658"/>
<circle cx="96.8" cy="-151.9" r="1.25" fill="#4a4658"/>
<circle cx="155.1" cy="-234" r="1.25" fill="#4a4658"/>
<circle cx="226.5" cy="-234" r="1.25" fill="#4a4658"/>
<circle cx="280" cy="-8.7" r="1.25" fill="#4a4658"/>
<text x="20.3" y="-9.6" font-size="12.4" fill="#d2104f" stroke="#d2104f" stroke-width="0.5" stroke-linejoin="round" textLength="66.4" lengthAdjust="spacingAndGlyphs">3℃ per min</text>
<text x="67.1" y="-77.2" font-size="12.4" fill="#d2104f" stroke="#d2104f" stroke-width="0.5" stroke-linejoin="round" textLength="65.8" lengthAdjust="spacingAndGlyphs">6℃ per min</text>
<text x="97.3" y="-135.9" font-size="12.4" fill="#d2104f" stroke="#d2104f" stroke-width="0.5" stroke-linejoin="round" textLength="125.2" lengthAdjust="spacingAndGlyphs">1000℃ holding 10min</text>
<text x="140.2" y="-192.0" font-size="12.4" fill="#d2104f" stroke="#d2104f" stroke-width="0.5" stroke-linejoin="round" textLength="66.3" lengthAdjust="spacingAndGlyphs">5℃ per min</text>
<text x="140.1" y="-246.6" font-size="12.4" fill="#d2104f" stroke="#d2104f" stroke-width="0.5" stroke-linejoin="round" textLength="132.8" lengthAdjust="spacingAndGlyphs">1530℃ holding 120min</text>
<text x="243.8" y="-170.9" font-size="12.4" fill="#d2104f" stroke="#d2104f" stroke-width="0.5" stroke-linejoin="round" textLength="78.1" lengthAdjust="spacingAndGlyphs">-15℃ per min</text>
</g></svg>
<svg class="chart" style="left:0;top:0" width="750" height="1529" viewBox="0 0 750 1529">
<g transform="translate(372.2 1469.7) scale(1.0185)" font-family='"Liberation Sans", "Noto Sans CJK SC", sans-serif'>
<path d="M 0 -30.45 H 328.3 M 0 -60.90 H 328.3 M 0 -91.35 H 328.3 M 0 -121.80 H 328.3 M 0 -152.25 H 328.3 M 0 -182.70 H 328.3 M 0 -213.15 H 328.3 M 0 -243.60 H 328.3 M 54.70 0 V -274.3 M 109.40 0 V -274.3 M 164.10 0 V -274.3 M 218.80 0 V -274.3 M 273.50 0 V -274.3" stroke="#3d4b5c" stroke-width="1.45" stroke-dasharray="4.3 3.3" fill="none"/>
<rect x="0" y="-274.3" width="328.3" height="274.3" fill="none" stroke="#3d4b5c" stroke-width="1.5"/>
<text x="-1.5" y="-27.45" text-anchor="end" font-size="15.2" fill="#3d4b5c" textLength="24.5" lengthAdjust="spacingAndGlyphs">200</text>
<text x="-1.5" y="-57.90" text-anchor="end" font-size="15.2" fill="#3d4b5c" textLength="24.5" lengthAdjust="spacingAndGlyphs">400</text>
<text x="-1.5" y="-88.35" text-anchor="end" font-size="15.2" fill="#3d4b5c" textLength="24.5" lengthAdjust="spacingAndGlyphs">600</text>
<text x="-1.5" y="-118.80" text-anchor="end" font-size="15.2" fill="#3d4b5c" textLength="24.5" lengthAdjust="spacingAndGlyphs">800</text>
<text x="-1.5" y="-149.25" text-anchor="end" font-size="15.2" fill="#3d4b5c" textLength="32.6" lengthAdjust="spacingAndGlyphs">1000</text>
<text x="-1.5" y="-179.70" text-anchor="end" font-size="15.2" fill="#3d4b5c" textLength="32.6" lengthAdjust="spacingAndGlyphs">1200</text>
<text x="-1.5" y="-210.15" text-anchor="end" font-size="15.2" fill="#3d4b5c" textLength="32.6" lengthAdjust="spacingAndGlyphs">1400</text>
<text x="-1.5" y="-240.60" text-anchor="end" font-size="15.2" fill="#3d4b5c" textLength="32.6" lengthAdjust="spacingAndGlyphs">1600</text>
<text x="-5.6" y="12.6" text-anchor="middle" font-size="15.2" fill="#3d4b5c" textLength="8.15" lengthAdjust="spacingAndGlyphs">0</text>
<text x="48.10" y="14.3" text-anchor="middle" font-size="15.2" fill="#3d4b5c" textLength="24.45" lengthAdjust="spacingAndGlyphs">100</text>
<text x="100.70" y="14.3" text-anchor="middle" font-size="15.2" fill="#3d4b5c" textLength="24.45" lengthAdjust="spacingAndGlyphs">200</text>
<text x="155.20" y="14.3" text-anchor="middle" font-size="15.2" fill="#3d4b5c" textLength="24.45" lengthAdjust="spacingAndGlyphs">300</text>
<text x="210.20" y="14.3" text-anchor="middle" font-size="15.2" fill="#3d4b5c" textLength="24.45" lengthAdjust="spacingAndGlyphs">400</text>
<text x="264.60" y="14.3" text-anchor="middle" font-size="15.2" fill="#3d4b5c" textLength="24.45" lengthAdjust="spacingAndGlyphs">500</text>
<text x="317.90" y="14.3" text-anchor="middle" font-size="15.2" fill="#3d4b5c" textLength="24.45" lengthAdjust="spacingAndGlyphs">600</text>
<text x="164.5" y="29.5" text-anchor="middle" font-size="15" fill="#3d4b5c">Time(min)</text>
<text transform="translate(-48.4 -190.2) rotate(90)" font-size="15" fill="#3d4b5c">Temperature(<tspan font-weight="300" font-size="14.5" fill="#5b6776" dx="0.6">℃</tspan><tspan dx="1.6">)</tspan></text>
<polyline points="0,0 11.5,-10.2 96.8,-151.9 104.5,-151.9 155.1,-234 226.5,-234 280,-8.7" fill="none" stroke="#d2104f" stroke-width="2.2" stroke-linejoin="round"/>
<circle cx="11.5" cy="-10.2" r="1.25" fill="#4a4658"/>
<circle cx="96.8" cy="-151.9" r="1.25" fill="#4a4658"/>
<circle cx="155.1" cy="-234" r="1.25" fill="#4a4658"/>
<circle cx="226.5" cy="-234" r="1.25" fill="#4a4658"/>
<circle cx="280" cy="-8.7" r="1.25" fill="#4a4658"/>
<text x="20.3" y="-9.6" font-size="12.4" fill="#d2104f" stroke="#d2104f" stroke-width="0.5" stroke-linejoin="round" textLength="66.4" lengthAdjust="spacingAndGlyphs">3℃ per min</text>
<text x="67.1" y="-77.2" font-size="12.4" fill="#d2104f" stroke="#d2104f" stroke-width="0.5" stroke-linejoin="round" textLength="65.8" lengthAdjust="spacingAndGlyphs">6℃ per min</text>
<text x="97.3" y="-135.9" font-size="12.4" fill="#d2104f" stroke="#d2104f" stroke-width="0.5" stroke-linejoin="round" textLength="125.2" lengthAdjust="spacingAndGlyphs">1000℃ holding 10min</text>
<text x="140.2" y="-192.0" font-size="12.4" fill="#d2104f" stroke="#d2104f" stroke-width="0.5" stroke-linejoin="round" textLength="66.3" lengthAdjust="spacingAndGlyphs">5℃ per min</text>
<text x="140.1" y="-247.6" font-size="12.4" fill="#d2104f" stroke="#d2104f" stroke-width="0.5" stroke-linejoin="round" textLength="133.8" lengthAdjust="spacingAndGlyphs">1500℃ holding 120min</text>
<text x="243.8" y="-170.9" font-size="12.4" fill="#d2104f" stroke="#d2104f" stroke-width="0.5" stroke-linejoin="round" textLength="78.1" lengthAdjust="spacingAndGlyphs">-15℃ per min</text>
</g></svg>
</body>
</html>
